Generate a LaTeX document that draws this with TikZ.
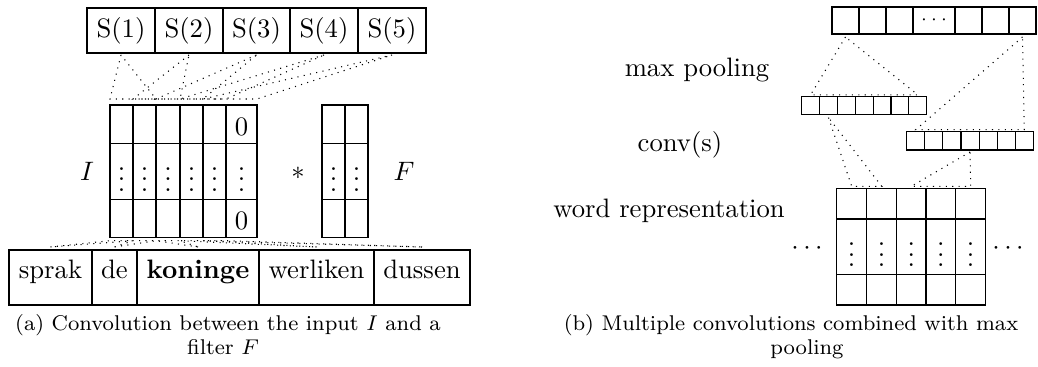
\documentclass[tikz,border=0pt]{standalone}
\newcommand\cellbox[7][]{\node[cell, #1, minimum width={((#5)-(#3))*0.375pt}, minimum height={((#6)-(#4))*0.375pt}] (#2) at ({#3},{#4}) {#7};}
\begin{document}
\begin{tikzpicture}[x=0.375pt,y=-0.375pt,
  cell/.style={draw, inner sep=0pt, outer sep=0pt, anchor=north west},
  scell/.style={text height=7.5pt, text depth=2.5pt},
  wcell/.style={text height=5pt, text depth=4.6pt},
  zcell/.style={text height=8.7pt, text depth=0.5pt},
  conn/.style={dotted},
  lbl/.style={inner sep=0pt, anchor=base},
  captext/.style={inner sep=0pt, anchor=base, font=\footnotesize}]
\useasboundingbox (0,0) rectangle (1038,367);
% ---------- (a) ----------
\cellbox[scell]{s1}{87}{8}{155}{53}{S(1)}
\cellbox[scell]{s2}{155}{8}{223}{53}{S(2)}
\cellbox[scell]{s3}{223}{8}{290}{53}{S(3)}
\cellbox[scell]{s4}{290}{8}{358}{53}{S(4)}
\cellbox[scell]{s5}{358}{8}{426}{53}{S(5)}
\foreach \c/\xa/\xb in {1/110/133,2/133/156,3/156/180,4/180/203,5/203/226,6/226/257}{
  \cellbox[zcell]{i1\c}{\xa}{105}{\xb}{143.3}{\ifnum\c=6 0\fi}
  \cellbox{i2\c}{\xa}{143.3}{\xb}{199.3}{$\vdots$}
  \cellbox[zcell]{i3\c}{\xa}{199.3}{\xb}{237.7}{\ifnum\c=6 0\fi}
}
\foreach \c/\xa/\xb in {1/322/345,2/345/368}{
  \cellbox{f1\c}{\xa}{105}{\xb}{143.3}{}
  \cellbox{f2\c}{\xa}{143.3}{\xb}{199.3}{$\vdots$}
  \cellbox{f3\c}{\xa}{199.3}{\xb}{237.7}{}
}
\node[lbl] (lI) at (87,181) {$I$};
\node (star) at (298,173) {$*$};
\node[lbl] (lF) at (404,181) {$F$};
\cellbox[wcell]{w1}{9}{250}{92}{305}{sprak}
\cellbox[wcell]{w2}{92}{250}{137}{305}{de}
\cellbox[wcell]{w3}{137}{250}{259}{305}{\textbf{koninge}}
\cellbox[wcell]{w4}{259}{250}{374}{305}{werliken}
\cellbox[wcell]{w5}{374}{250}{470}{305}{dussen}
\foreach \k/\n in {1/2,2/3,3/4,4/5,5/6}{
  \draw[conn] ([yshift=-0.75pt]s\k.south) -- ([yshift=2.25pt]i1\k.north west) -- ([yshift=2.25pt]i1\n.north east) -- cycle;
}
\foreach \k in {1,...,5}{
  \draw[conn] ([yshift=1.125pt]w\k.north) -- ([yshift=-1.125pt]i3\k.south west) -- ([yshift=-1.125pt]i3\k.south east) -- cycle;
}
\node[captext] (capa1) at (228,331) {(a) Convolution between the input $I$ and a};
\node[captext] (capa2) at (223,355) {filter $F$};
% ---------- (b) ----------
\foreach \c/\xa/\xb in {1/832/859,2/859/886,3/886/913,4/913/955,5/955/982,6/982/1009,7/1009/1036}{
  \cellbox{t\c}{\xa}{7}{\xb}{34}{\ifnum\c=4 \scriptsize$\cdots$\fi}
}
\foreach \c in {1,...,7}{
  \cellbox{a\c}{801.7+(\c-1)*17.86}{96.8}{801.7+\c*17.86}{114.6}{}
  \cellbox{b\c}{906.7+(\c-1)*18.09}{131.7}{906.7+\c*18.09}{150}{}
}
\foreach \c/\xa/\xb in {1/836.7/866.7,2/866.7/896.7,3/896.7/926,4/926/955.7,5/955.7/985.7}{
  \cellbox{m1\c}{\xa}{188.3}{\xb}{219}{}
  \cellbox{m2\c}{\xa}{219}{\xb}{274.7}{$\vdots$}
  \cellbox{m3\c}{\xa}{274.7}{\xb}{305}{}
}
\node[lbl] (mp) at (697,77) {max pooling};
\node[lbl] (cv) at (680,152) {conv(s)};
\node[lbl] (wr) at (669,218) {word representation};
\node (ld) at (807,249) {$\cdots$};
\node (rd) at (1008,249) {$\cdots$};
\draw[conn] ([yshift=-1.125pt]t1.south) -- ([yshift=0.75pt]a1.north) -- ([yshift=0.75pt]a7.north) -- cycle;
\draw[conn] ([yshift=-1.125pt]t7.south) -- ([yshift=0.75pt]b1.north) -- ([yshift=0.75pt]b7.north) -- cycle;
\draw[conn] ([yshift=-1.125pt]a2.south) -- ([yshift=0.75pt]m11.north) -- ([yshift=0.75pt]m12.north) -- cycle;
\draw[conn] ([yshift=-0.75pt]b4.south) -- ([yshift=0.75pt]m13.north) -- ([yshift=0.75pt]m15.north) -- cycle;
\node[captext] (capb1) at (791,331) {(b) Multiple convolutions combined with max};
\node[captext] (capb2) at (807,355) {pooling};
\end{tikzpicture}
\end{document}
